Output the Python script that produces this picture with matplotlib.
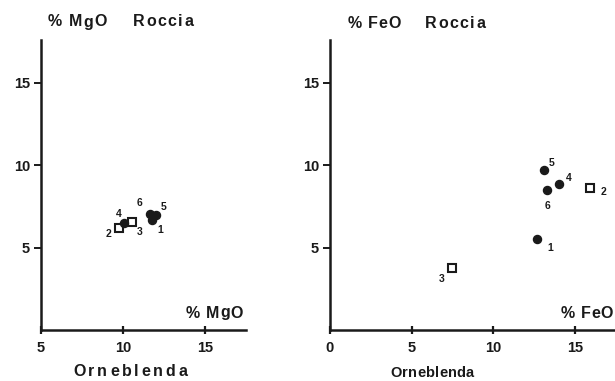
import matplotlib
matplotlib.use("Agg")
import matplotlib.pyplot as plt

plt.rcParams['font.family'] = ['Liberation Sans', 'DejaVu Sans']
plt.rcParams['font.weight'] = 'bold'

INK = '#1a1a1a'

# Sample numbers and compositions (wt %)
samples = ["1", "2", "3", "4", "5", "6"]
filled = [True, False, False, True, True, True]

mgo_orneblenda = [11.75, 9.76, 10.55, 10.05, 11.99, 11.63]
mgo_roccia = [6.65, 6.18, 6.54, 6.48, 7.00, 7.07]

feo_orneblenda = [12.70, 15.90, 7.45, 14.04, 13.10, 13.27]
feo_roccia = [5.53, 8.62, 3.78, 8.86, 9.70, 8.52]

y_ticks = [5, 10, 15]
mgo_x_ticks = [5, 10, 15]
feo_x_ticks = [0, 5, 10, 15]

# label offsets (pixels) for the sample numbers
mgo_offsets = [(9, -10), (-11, -6), (8, -10), (-5, 9), (8, 8), (-10, 11)]
feo_offsets = [(13, -9), (14, -4), (-10, -11), (9, 6), (8, 7), (1, -16)]

fig = plt.figure(figsize=(6.15, 3.81), dpi=100)
W, H = 615, 381
ax1 = fig.add_axes([41 / W, 51 / H, 205 / W, 290 / H])
ax2 = fig.add_axes([330 / W, 51 / H, 285 / W, 290 / H])
renderer = fig.canvas.get_renderer()


def tracked_text(x_px, y_px, s, size, tracking):
    """Write s starting at pixel x_px (left), centred at y_px, with extra letter spacing."""
    x = x_px
    for ch in s:
        if ch == ' ':
            x += size * 0.30 * 100 / 72
            continue
        t = fig.text(x / W, 1 - y_px / H, ch, fontsize=size, fontweight='bold',
                     ha='left', va='center', color=INK)
        bb = t.get_window_extent(renderer=renderer)
        x += bb.width + tracking
    return x


def draw_panel(ax, xs, ys, offsets, xlim, xticks):
    for x, y, f, lab, off in zip(xs, ys, filled, samples, offsets):
        if f:
            ax.plot(x, y, 'o', ms=5.8, color=INK, mec=INK, zorder=3)
        else:
            ax.plot(x, y, 's', ms=5.5, mfc='white', mec=INK, mew=1.5, zorder=3)
        ax.annotate(lab, (x, y), xytext=off, textcoords='offset pixels',
                    ha='center', va='center', fontsize=7.5, fontweight='bold',
                    color=INK)
    ax.set_xlim(*xlim)
    ax.set_ylim(0, 17.6)
    ax.set_xticks(xticks)
    ax.set_yticks(y_ticks)
    for s in ('top', 'right'):
        ax.spines[s].set_visible(False)
    for s in ('left', 'bottom'):
        ax.spines[s].set_linewidth(1.8)
        ax.spines[s].set_color(INK)
    ax.tick_params(axis='x', direction='inout', length=6, width=1.6,
                   labelsize=10.5, pad=5, colors=INK)
    ax.tick_params(axis='y', direction='out', length=5, width=1.4,
                   labelsize=10.5, pad=3, colors=INK)
    for t in ax.get_xticklabels() + ax.get_yticklabels():
        t.set_fontweight('bold')
    ax.patch.set_alpha(0)


draw_panel(ax1, mgo_orneblenda, mgo_roccia, mgo_offsets, (5, 17.5), mgo_x_ticks)
draw_panel(ax2, feo_orneblenda, feo_roccia, feo_offsets, (0, 17.45), feo_x_ticks)

# y-axis captions (top)
tracked_text(48, 22, "% MgO", 11.5, 1.6)
tracked_text(133, 22, "Roccia", 11.5, 1.5)
tracked_text(348, 24, "% FeO", 11.5, 1.0)
tracked_text(425, 24, "Roccia", 11.5, 1.5)

# x-axis captions (inside, lower right)
tracked_text(186, 313, "% MgO", 11.5, 0.8)
tracked_text(561, 313, "% FeO", 11.5, 0.6)

# Orneblenda labels under each panel
tracked_text(73, 372, "Orneblenda", 11.5, 2.8)
tracked_text(390, 373, "Orneblenda", 10.5, 0.3)

fig.savefig("out.png", dpi=100)
